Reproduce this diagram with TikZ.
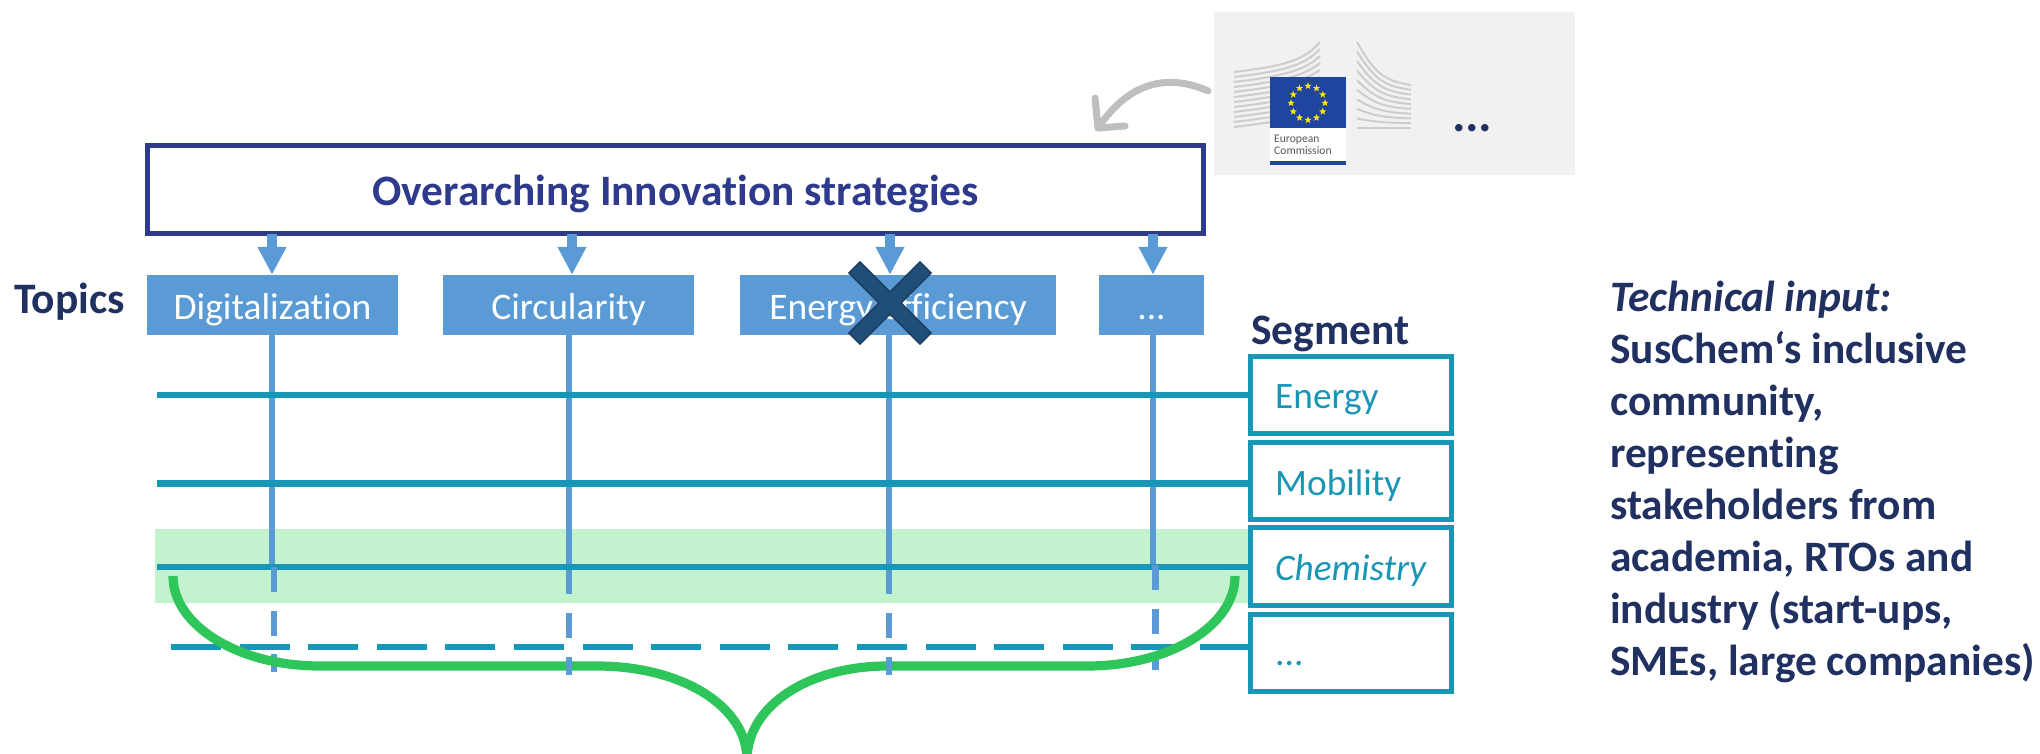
\documentclass[tikz,border=0pt]{standalone}
\usepackage{fontspec}
\setmainfont{Carlito}[Ligatures=NoCommon]
\usetikzlibrary{arrows.meta,shapes.geometric,calc}
\definecolor{topicblue}{HTML}{5B9BD5}
\definecolor{segteal}{HTML}{1896B5}
\definecolor{mainnavy}{HTML}{2E3A8C}
\definecolor{textnavy}{HTML}{203060}
\definecolor{bandgreen}{HTML}{C3F2CF}
\definecolor{bracegreen}{HTML}{2EC55A}
\definecolor{arrowgrey}{HTML}{BFBFBF}
\definecolor{panelgrey}{HTML}{F1F1F1}
\definecolor{wallgrey}{HTML}{CDCDCD}
\definecolor{flagblue}{HTML}{1F459E}
\definecolor{crossfill}{HTML}{1F4E79}
\definecolor{crossline}{HTML}{1E3F60}
\newcommand{\fs}[1]{\fontsize{#1}{#1}\selectfont}
\tikzset{
  mainbox/.style={draw=mainnavy,line width=4.8pt,fill=white,minimum width=1056pt,minimum height=88pt,inner sep=0pt,text=mainnavy,font=\fs{43.4}\bfseries,text height=37pt,text depth=6pt},
  topicbox/.style={fill=topicblue,minimum height=60pt,inner sep=0pt,text=white,font=\fs{37.5},text height=34pt,text depth=6pt},
  segbox/.style={draw=segteal,line width=4.7pt,fill=white,minimum width=201.5pt,minimum height=77.5pt,inner sep=0pt},
  seglabel/.style={inner sep=0pt,anchor=base west,text=segteal,font=\fs{37.3}},
  seghline/.style={draw=segteal,line width=6.8pt},
  segdash/.style={seghline,dash pattern=on 50pt off 18.6pt},
  topicvline/.style={draw=topicblue,line width=6.5pt},
  topicdash/.style={topicvline,dash pattern=on 25pt off 18.5pt},
  topicarrow/.style={draw=topicblue,line width=9.5pt,-{Triangle[length=28pt,width=27pt,fill=topicblue]}},
  bracecurve/.style={draw=bracegreen,line width=9.2pt},
  label/.style={inner sep=0pt,anchor=base west},
  walls/.style={draw=wallgrey,line width=2pt},
}
\begin{document}
\begin{tikzpicture}[x=1pt,y=-1pt]
\useasboundingbox (0,0) rectangle (2040,753);
\clip (0,0) rectangle (2040,753);
% green band
\fill[bandgreen] (155,529) rectangle (1248,603);
% logo panel
\fill[panelgrey] (1214,12) rectangle (1575,175);
\foreach \i in {0,...,11}{
  \draw[walls] (1234,{72+\i*5}) .. controls (1285,{66+\i*5}) and (1305,{60+\i*5}) .. (1320,{42+\i*7});
}
\foreach \i in {0,...,9}{
  \pgfmathsetmacro{\ya}{42+86*\i/9}
  \pgfmathsetmacro{\yb}{85+43*\i/9}
  \draw[walls] (1357,\ya) .. controls (1375,{\ya+(\yb-\ya)*0.75}) and (1385,{\yb-4*(1-\i/9)}) .. (1411,\yb);
}
\fill[white] (1270,128) rectangle (1346,161);
\fill[flagblue] (1270,77) rectangle (1346,128);
\fill[flagblue] (1270,161) rectangle (1346,165);
\coordinate (flagc) at (1308,103);
\foreach \i in {0,...,11}{
  \node[star,star points=5,star point ratio=2.4,fill=yellow!90!orange,minimum size=7.5pt,inner sep=0pt] (st\i) at ($(flagc)+({30*\i}:17pt and -17pt)$) {};
}
\node[label,text=black!65,font=\fs{11.6}] (ec1) at (1274,142) {European};
\node[label,text=black!65,font=\fs{11.6}] (ec2) at (1274,154) {Commission};
\node[label,text=textnavy,font=\fs{50}\bfseries\itshape] (dots) at (1453,131) {...};
% nodes
\node[mainbox] (main) at (675.5,189.5) {Overarching Innovation strategies};
\node[topicbox,minimum width=251pt] (dig) at (272.5,305) {Digitalization};
\node[topicbox,minimum width=251pt] (circ) at (568.5,305) {Circularity};
\node[topicbox,minimum width=316pt] (eff) at (898,305) {Energy efficiency};
\node[topicbox,minimum width=105pt] (more) at (1151.5,305) {...};
\node[segbox] (s1) at (1351,395) {};
\node[segbox] (s2) at (1351,481) {};
\node[segbox] (s3) at (1351,566.5) {};
\node[segbox] (s4) at (1351,653) {};
\node[seglabel] (l1) at (1275,408) {Energy};
\node[seglabel] (l2) at (1275,495.5) {Mobility};
\node[seglabel] (l3) at (1275,580) {\itshape Chemistry};
\node[seglabel] (l4) at (1275,665) {...};
\node[label,text=textnavy,font=\fs{43.5}\bfseries] (topics) at (14,313.5) {Topics};
\node[label,text=textnavy,font=\fs{43.5}\bfseries] (segment) at (1251,344) {Segment};
\node[inner sep=0pt,anchor=north west,align=left,text=textnavy,font=\fontsize{43.4}{52}\selectfont\bfseries] (tech) at (1610,281) {\textit{Technical input:}\\SusChem‘s inclusive\\community,\\representing\\stakeholders from\\academia, RTOs and\\industry (start-ups,\\SMEs, large companies)};
% arrows main -> topics
\coordinate (a1) at (272,234);
\coordinate (a2) at (572,234);
\coordinate (a3) at (890,234);
\coordinate (a4) at (1153,234);
\draw[topicarrow] (a1) -- (a1 |- dig.north);
\draw[topicarrow] (a2) -- (a2 |- circ.north);
\draw[topicarrow] (a3) -- (a3 |- eff.north);
\draw[topicarrow] (a4) -- (a4 |- more.north);
% vertical topic lines
\coordinate (v1) at (272,567);
\coordinate (v2) at (569,594);
\coordinate (v3) at (889,594);
\coordinate (v4) at (1153,565);
\draw[topicvline] (v1 |- dig.south) -- (v1);
\draw[topicvline] (v2 |- circ.south) -- (v2);
\draw[topicvline] (v3 |- eff.south) -- (v3);
\draw[topicvline] (v4 |- more.south) -- (v4);
% horizontal segment lines
\coordinate (h1) at (157,395);
\coordinate (h2) at (157,483.5);
\coordinate (h3) at (157,567);
\coordinate (h4) at (171,647);
\draw[seghline] (h1) -- (h1 -| s1.west);
\draw[seghline] (h2) -- (h2 -| s2.west);
\draw[seghline] (h3) -- (h3 -| s3.west);
\draw[segdash] (h4) -- (h4 -| s4.west);
% dashed continuations
\coordinate (d1a) at (274,567); \coordinate (d1b) at (274,672);
\coordinate (d4a) at (1155.5,565); \coordinate (d4b) at (1155.5,670);
\draw[topicdash] (d1a) -- (d1b);
\draw[topicdash] (d4a) -- (d4b);
\coordinate (d2a) at (569,613); \coordinate (d2b) at (569,675);
\coordinate (d3a) at (889,613); \coordinate (d3b) at (889,675);
% brace
\coordinate (bl) at (173,576);
\coordinate (bla) at (320,666);
\coordinate (blb) at (597,666);
\coordinate (tip) at (747,760);
\coordinate (brb) at (887,666);
\coordinate (bra) at (1087,666);
\coordinate (br) at (1235,576);
\draw[bracecurve] (bl) .. controls (173,626) and (239,666) .. (bla) -- (blb) .. controls (680,666) and (747,705) .. (tip);
\draw[bracecurve] (tip) .. controls (747,705) and (810,666) .. (brb) -- (bra) .. controls (1169,666) and (1235,626) .. (br);
\draw[topicdash] (d2a) -- (d2b);
\draw[topicdash] (d3a) -- (d3b);
% crossing-out mark
\coordinate (xc) at (890,303);
\filldraw[fill=crossfill,draw=crossline,line width=1.6pt,shift={(xc)}] (0,-11) -- (30,-41) -- (41,-30) -- (11,0) -- (41,30) -- (30,41) -- (0,11) -- (-30,41) -- (-41,30) -- (-11,0) -- (-41,-30) -- (-30,-41) -- cycle;
% grey arrow
\coordinate (ga) at (1208,91);
\coordinate (gb) at (1098,128);
\coordinate (gc) at (1095,98);
\coordinate (gd) at (1125,126);
\draw[draw=arrowgrey,line width=7pt,line cap=round,line join=round] (ga) .. controls (1170,74) and (1130,80) .. (gb);
\draw[draw=arrowgrey,line width=7pt,line cap=round,line join=round] (gc) -- (gb) -- (gd);
\end{tikzpicture}
\end{document}
